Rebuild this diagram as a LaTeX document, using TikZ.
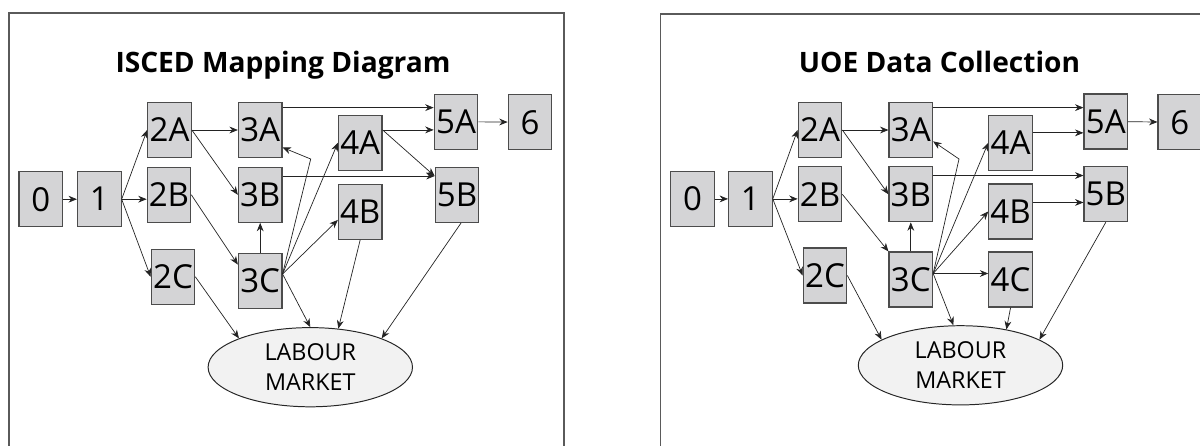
\documentclass[tikz,border=0pt]{standalone}
\usepackage{fontspec}
\setmainfont{Open Sans}
\usepackage{tikz}
\usetikzlibrary{shapes.geometric}
\usetikzlibrary{arrows.meta}

\definecolor{boxgray}{RGB}{212,212,214}
\definecolor{linegray}{RGB}{35,35,35}
\definecolor{framegray}{RGB}{90,90,90}
\definecolor{marketgray}{RGB}{242,242,242}

\tikzset{
	lvlbox/.style={draw=black!70, fill=boxgray, line width=0.8pt, minimum width=10.9mm, minimum height=13.75mm, inner sep=0pt, font=\fontsize{23.5}{23.5}\selectfont},
	market/.style={ellipse, draw=black!85, fill=marketgray, line width=0.7pt, minimum width=51.1mm, minimum height=19.8mm, inner sep=0pt, align=center, font=\fontsize{16.6}{21.3}\selectfont},
	flow/.style={-{Stealth[length=2.1mm,width=1.7mm]}, linegray, line width=0.5pt},
	panel/.style={framegray, line width=1.4pt},
	heading/.style={anchor=base, font=\fontsize{20}{20}\selectfont\bfseries}
}

\begin{document}
\begin{tikzpicture}[x=0.25mm,y=-0.25mm]
	
	\useasboundingbox (0,0) rectangle (1200,445);
	\clip (0,0) rectangle (1200,445);
	
	% ISCED
	\begin{scope}
		\draw[panel] (8.7,460) |- (563.7,13.3) -- (563.7,460);
		\node[heading] (ititle) at (283,72.7) {ISCED Mapping Diagram};
		
		\node[lvlbox] (i0) at (40.8,199.2) {0};
		\node[lvlbox] (i1) at (99.3,199.2) {1};
		\node[lvlbox] (i2A) at (169.5,130) {2A};
		\node[lvlbox] (i2B) at (169,194.8) {2B};
		\node[lvlbox] (i2C) at (173,276.8) {2C};
		\node[lvlbox] (i3A) at (260.2,130) {3A};
		\node[lvlbox] (i3B) at (260.2,194.8) {3B};
		\node[lvlbox] (i3C) at (260.2,280.8) {3C};
		\node[lvlbox] (i4A) at (360.2,142.8) {4A};
		\node[lvlbox] (i4B) at (360.2,211.8) {4B};
		\node[lvlbox] (i5A) at (456,121.7) {5A};
		\node[lvlbox] (i5B) at (457,195) {5B};
		\node[lvlbox] (i6) at (530,122.2) {6};
		\node[market] (ilm) at (310.3,367.2) {LABOUR\\MARKET};
		
		\coordinate (i3Co) at ([yshift=1.7mm]i3C.east);
		\coordinate (i3Ck) at (310.7,159);
		\coordinate (i5Bin) at (i3B.40 -| i5B.west);
		
		\draw[flow] (i0) -- (i1);
		\draw[flow] (i1.east) -- (i2A.west);
		\draw[flow] (i1.east) -- (i1.east -| i2B.west);
		\draw[flow] (i1.east) -- (i2C.west);
		\draw[flow] (i2A) -- (i3A);
		\draw[flow] (i2A.east) -- (i3B.west);
		\draw[flow] (i2B.east) -- (i3C.144);
		\draw[flow] (i2C.east) -- (ilm.158);
		\draw[flow] (i3C.north) -- (i3B.south);
		\draw[flow] (i3Co) -- (i3Ck) -- (i3A.322);
		\draw[flow] (i3Co) -- (i4A.west);
		\draw[flow] (i3Co) -- (i4B.200);
		\draw[flow] (i3Co) -- (ilm.north);
		\draw[flow] (i3A.45) -- (i3A.45 -| i5A.west);
		\draw[flow] (i3B.40) -- (i5Bin);
		\draw[flow] (i4A.30) -- (i4A.30 -| i5A.west);
		\draw[flow] (i4A.30) -- (i5Bin);
		\draw[flow] (i4B.south) -- (ilm.54);
		\draw[flow] ([xshift=1mm]i5B.south) -- (ilm.22);
		\draw[flow] (i5A) -- (i6);
	\end{scope}
	
	% UOE
	\begin{scope}[shift={(651,0)}]
		\draw[panel] (9.5,460) |- (600,14);
		\node[heading] (utitle) at (288.5,72.7) {UOE Data Collection};
		
		\node[lvlbox] (u0) at (41.6,198.9) {0};
		\node[lvlbox] (u1) at (99.4,198.9) {1};
		\node[lvlbox] (u2A) at (169,130) {2A};
		\node[lvlbox] (u2B) at (169,194.3) {2B};
		\node[lvlbox] (u2C) at (174,275.5) {2C};
		\node[lvlbox] (u3A) at (259.8,130) {3A};
		\node[lvlbox] (u3B) at (259.8,194.3) {3B};
		\node[lvlbox] (u3C) at (259.8,279.5) {3C};
		\node[lvlbox] (u4A) at (359.6,142.8) {4A};
		\node[lvlbox] (u4B) at (359.6,211.5) {4B};
		\node[lvlbox] (u4C) at (359.6,279.5) {4C};
		\node[lvlbox] (u5A) at (454.8,121.5) {5A};
		\node[lvlbox] (u5B) at (454.8,194.2) {5B};
		\node[lvlbox] (u6) at (528.8,122.2) {6};
		\node[market] (ulm) at (309.5,365.3) {LABOUR\\MARKET};
		
		\coordinate (u3Co) at ([yshift=1.5mm]u3C.east);
		\coordinate (u3Ck) at (308,159);
		
		\draw[flow] (u0) -- (u1);
		\draw[flow] (u1.east) -- (u2A.west);
		\draw[flow] (u1.east) -- (u1.east -| u2B.west);
		\draw[flow] (u1.east) -- (u2C.west);
		\draw[flow] (u2A) -- (u3A);
		\draw[flow] (u2A.east) -- (u3B.west);
		\draw[flow] (u2B.east) -- (u3C.north west);
		\draw[flow] (u2C.east) -- (ulm.162);
		\draw[flow] (u3C.north) -- (u3B.south);
		\draw[flow] (u3Co) -- (u3Ck) -- (u3A.333);
		\draw[flow] (u3Co) -- (u4A.west);
		\draw[flow] (u3Co) -- (u4B.west);
		\draw[flow] (u3Co) -- (u3Co -| u4C.west);
		\draw[flow] (u3Co) -- (ulm.100);
		\draw[flow] (u3A.45) -- (u3A.45 -| u5A.west);
		\draw[flow] (u3B.40) -- (u3B.40 -| u5B.west);
		\draw[flow] (u4A.24) -- (u4A.24 -| u5A.west);
		\draw[flow] (u4B.22) -- (u4B.22 -| u5B.west);
		\draw[flow] (u4C.south) -- (ulm.38);
		\draw[flow] (u5B.south) -- (ulm.18);
		\draw[flow] (u5A) -- (u6);
	\end{scope}
	
\end{tikzpicture}
\end{document}
